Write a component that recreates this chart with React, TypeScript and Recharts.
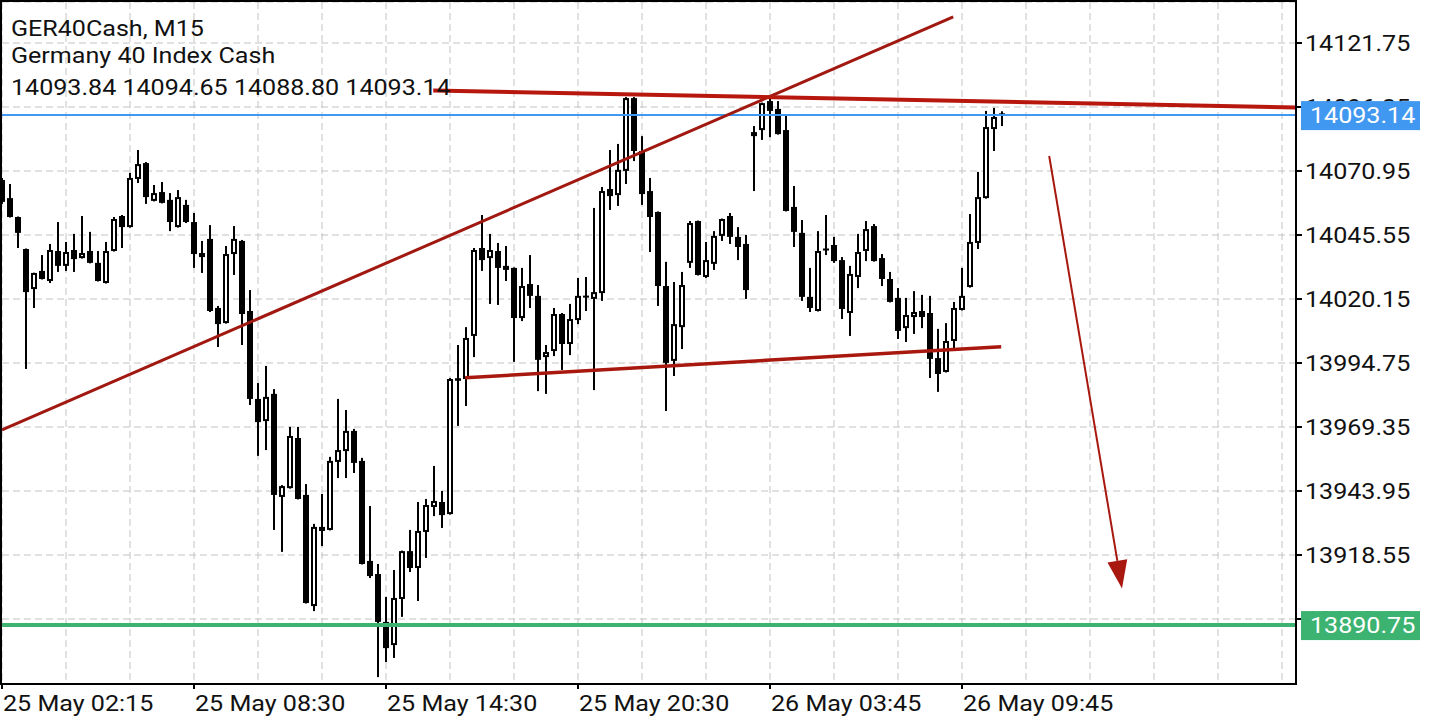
import { ComposedChart, XAxis, YAxis, CartesianGrid, Bar, ReferenceLine } from "recharts";

// M15 candles (index 0 = 25 May 02:15)
const OPEN = [
  14067.4, 14060.2, 14052.7, 14040.0, 14024.1, 14031.3, 14027.3, 14039.2, 14033.3, 14039.6,
  14036.4, 14039.2, 14034.5, 14026.5, 14039.2, 14053.1, 14048.7, 14067.8, 14074.1, 14059.1,
  14062.6, 14059.5, 14048.7, 14057.5, 14050.7, 14038.4, 14044.0, 14016.6, 14010.6, 14038.0,
  14043.2, 14015.4, 13980.5, 13971.7, 13982.5, 13941.6, 13945.1, 13965.0, 13942.4, 13898.3,
  13929.7, 13928.5, 13955.5, 13959.8, 13967.8, 13955.9, 13916.2, 13911.0, 13892.0, 13882.8,
  13901.1, 13920.1, 13913.4, 13927.7, 13937.6, 13939.6, 13934.8, 13988.4, 13988.4, 14005.5,
  14040.4, 14036.4, 14039.2, 14031.7, 14032.5, 14012.6, 14026.1, 14021.4, 13997.1, 13999.5,
  14014.2, 14002.3, 14011.8, 14021.5, 14020.2, 14022.5, 14063.8, 14061.4, 14071.0, 14099.9,
  14078.9, 14063.0, 14054.7, 14025.3, 13995.6, 14009.0, 14034.5, 14051.1, 14028.9, 14034.1,
  14045.2, 14053.1, 14044.8, 14042.0, 14084.8, 14087.2, 14098.7, 14095.6, 14087.2, 14056.7,
  14046.4, 14021.0, 14015.4, 14040.2, 14041.6, 14035.6, 14014.6, 14028.9, 14039.2, 14049.1,
  14036.4, 14028.1, 14020.6, 14008.6, 14013.0, 14015.4, 14014.6, 13996.7, 13991.2, 14003.5,
  14015.8, 14024.9, 14042.4, 14060.2, 14087.6, 14093.84,
];
const HIGH = [
  14068.2, 14065.8, 14052.9, 14040.2, 14030.6, 14037.6, 14042.0, 14050.7, 14042.8, 14046.0,
  14053.1, 14046.8, 14039.2, 14042.8, 14052.7, 14053.5, 14070.2, 14079.3, 14074.5, 14065.4,
  14066.6, 14062.2, 14063.4, 14059.5, 14054.3, 14043.2, 14049.5, 14017.4, 14041.2, 14049.1,
  14043.6, 14023.7, 13986.8, 13993.6, 13984.4, 13946.3, 13969.4, 13969.4, 13946.7, 13930.9,
  13942.8, 13957.5, 13980.5, 13976.1, 13968.6, 13957.1, 13938.0, 13915.0, 13901.9, 13912.6,
  13920.3, 13928.5, 13939.6, 13940.8, 13953.9, 13944.0, 13988.8, 14001.9, 14009.0, 14040.4,
  14053.5, 14046.0, 14042.4, 14041.2, 14032.7, 14032.5, 14037.6, 14025.7, 14001.9, 14016.6,
  14014.6, 14018.2, 14028.5, 14028.9, 14056.3, 14064.6, 14079.3, 14081.7, 14100.3, 14100.3,
  14084.8, 14068.2, 14054.9, 14034.9, 14026.9, 14030.9, 14051.1, 14051.3, 14042.8, 14047.1,
  14052.1, 14054.3, 14048.7, 14045.6, 14088.8, 14098.1, 14100.3, 14098.7, 14093.2, 14065.0,
  14051.5, 14032.5, 14047.1, 14053.5, 14044.8, 14036.8, 14033.3, 14046.0, 14051.1, 14049.9,
  14038.0, 14030.9, 14024.5, 14020.6, 14023.3, 14021.8, 14021.4, 14008.3, 14010.6, 14019.0,
  14032.5, 14053.9, 14070.6, 14094.8, 14096.0, 14094.65,
];
const LOW = [
  14057.9, 14052.5, 14040.4, 13992.4, 14016.6, 14027.9, 14026.5, 14030.9, 14031.3, 14030.9,
  14036.2, 14034.3, 14027.1, 14026.3, 14039.0, 14040.4, 14048.5, 14066.2, 14057.9, 14058.9,
  14058.1, 14047.1, 14048.5, 14050.3, 14032.5, 14030.5, 14015.0, 14001.1, 14010.4, 14029.7,
  14001.9, 13978.1, 13957.9, 13960.2, 13928.5, 13919.8, 13944.9, 13940.6, 13899.3, 13896.3,
  13922.1, 13928.3, 13949.1, 13949.1, 13951.1, 13914.8, 13909.4, 13870.1, 13876.1, 13877.7,
  13894.0, 13911.8, 13900.3, 13917.4, 13934.0, 13929.3, 13934.6, 13969.8, 13977.7, 13997.1,
  14031.3, 14018.2, 14017.8, 14027.3, 13995.2, 14011.4, 14016.6, 13983.6, 13982.5, 13997.5,
  13992.0, 13997.9, 14010.2, 14015.4, 13984.0, 14019.4, 14055.5, 14057.1, 14065.8, 14074.9,
  14057.5, 14038.8, 14017.4, 13975.7, 13989.6, 14000.3, 14032.5, 14029.5, 14028.5, 14031.7,
  14043.2, 14042.0, 14035.6, 14020.2, 14063.0, 14083.3, 14084.4, 14085.4, 14054.9, 14040.8,
  14019.4, 14015.0, 14015.2, 14037.6, 14034.5, 14012.2, 14005.5, 14024.5, 14035.2, 14035.0,
  14025.3, 14018.8, 14004.3, 14003.1, 14006.3, 14008.6, 13988.8, 13983.3, 13991.0, 14000.7,
  14015.6, 14024.7, 14040.0, 14060.0, 14078.9, 14088.8,
];
const CLOSE = [
  14058.7, 14052.7, 14046.4, 14022.9, 14030.5, 14028.1, 14039.6, 14033.3, 14038.8, 14036.0,
  14038.4, 14034.5, 14027.3, 14039.2, 14051.9, 14048.7, 14068.2, 14073.7, 14060.6, 14062.2,
  14058.3, 14050.7, 14060.6, 14050.7, 14038.0, 14036.8, 14015.4, 14010.2, 14038.0, 14044.0,
  14014.2, 13980.5, 13971.3, 13981.3, 13942.4, 13945.9, 13965.8, 13940.8, 13899.5, 13929.7,
  13928.1, 13955.9, 13960.2, 13967.8, 13955.1, 13915.0, 13910.2, 13892.0, 13881.6, 13901.5,
  13920.1, 13913.4, 13928.1, 13938.4, 13940.0, 13934.4, 13988.4, 13988.7, 14004.7, 14039.6,
  14035.6, 14039.6, 14032.5, 14033.3, 14012.6, 14025.3, 14021.4, 13996.0, 13999.1, 14014.2,
  14002.3, 14012.2, 14021.4, 14021.3, 14022.9, 14063.0, 14061.0, 14071.4, 14099.9, 14078.9,
  14061.8, 14052.7, 14025.3, 13994.8, 14010.2, 14025.7, 14050.3, 14029.7, 14035.6, 14045.2,
  14051.9, 14044.8, 14040.8, 14023.7, 14086.4, 14097.9, 14094.8, 14085.6, 14055.1, 14046.8,
  14021.0, 14016.6, 14039.2, 14040.0, 14035.2, 14016.2, 14030.1, 14038.8, 14047.9, 14035.2,
  14028.1, 14019.0, 14007.5, 14013.8, 14015.0, 14013.0, 13996.4, 13990.4, 14003.5, 14016.6,
  14021.4, 14042.8, 14060.6, 14088.4, 14092.4, 14093.14,
];

const TIME_TICKS = [0, 24, 48, 72, 96, 120];
const TIME_LABELS = ["25 May 02:15", "25 May 08:30", "25 May 14:30", "25 May 20:30", "26 May 03:45", "26 May 09:45"];
const PRICE_TICKS = [14121.75, 14096.35, 14070.95, 14045.55, 14020.15, 13994.75, 13969.35, 13943.95, 13918.55, 13893.15];
const SUPPORT = 13890.75;

// drawn objects, in (bar index, price)
const RISING_LINE = [{ x: 0, y: 13968.2 }, { x: 118.9, y: 14132.1 }];
const TOP_LINE = [{ x: 53.9, y: 14102.9 }, { x: 161.75, y: 14096.2 }];
const BOTTOM_LINE = [{ x: 57.9, y: 13988.9 }, { x: 124.9, y: 14001.2 }];
const ARROW = [{ x: 130.9, y: 14076.9 }, { x: 140.0, y: 13905.3 }];

const X_DOMAIN = [0, 161.75];
const Y_DOMAIN = [13867.36, 14138.03];

const FONT = "Roboto, 'Noto Sans', sans-serif";
const SX = 1.14;
const RED = "#A8180F";
const BLUE = "#4198F0";
const GREEN = "#3CB371";

const data = OPEN.map((o, i) => ({ i, open: o, high: HIGH[i], low: LOW[i], close: CLOSE[i] }));
const last = data[data.length - 1];
const gridTicks: number[] = [];
for (let t = 0; t <= 160; t += 8) gridTicks.push(t);

function Candle(props: any) {
  const { x, y, width, height, payload } = props;
  if (!payload || x == null) return <g />;
  const top0 = Math.min(y, y + height);
  const h = Math.abs(height);
  const cx = Math.round(x + width / 2);
  const { open, high, low, close } = payload;
  const k = high > low ? h / (high - low) : 0;
  const bTop = top0 + (high - Math.max(open, close)) * k;
  const bBot = top0 + (high - Math.min(open, close)) * k;
  const up = close > open;
  return (
    <g>
      <rect x={cx - 1} y={top0} width={2} height={Math.max(h, 1)} fill="#000" />
      {up ? (
        <rect x={cx - 2} y={bTop + 1} width={4} height={Math.max(bBot - bTop - 2, 0.5)} fill="#fff" stroke="#000" strokeWidth={2} />
      ) : (
        <rect x={cx - 3} y={bTop} width={6} height={Math.max(bBot - bTop, 2)} fill="#000" />
      )}
    </g>
  );
}

function TimeTick({ x, y, payload }: any) {
  const idx = TIME_TICKS.indexOf(payload.value);
  if (idx < 0) return <g />;
  return (
    <g>
      <line x1={x} x2={x} y1={y} y2={y + 5} stroke="#000" strokeWidth={2} />
      <text transform={`translate(${x + 1},${y + 27}) scale(${SX},1)`} fontSize={22} fontFamily={FONT} fill="#111">
        {TIME_LABELS[idx]}
      </text>
    </g>
  );
}

function PriceTick({ x, y, payload }: any) {
  const v = payload.value;
  const tag = v === last.close ? BLUE : v === SUPPORT ? GREEN : null;
  if (tag) {
    return (
      <g>
        <rect x={x + 5} y={y - 14} width={119} height={29} fill={tag} />
        <text transform={`translate(${x + 14},${y + 8}) scale(${SX},1)`} fontSize={22} fontFamily={FONT} fill="#fff">
          {v.toFixed(2)}
        </text>
      </g>
    );
  }
  return (
    <g>
      <line x1={x} x2={x + 6} y1={y} y2={y} stroke="#000" strokeWidth={2} />
      <text transform={`translate(${x + 9},${y + 8}) scale(${SX},1)`} fontSize={22} fontFamily={FONT} fill="#111">
        {v.toFixed(2)}
      </text>
    </g>
  );
}

function ArrowShape(props: any) {
  const { x1, y1, x2, y2 } = props;
  if (x1 == null) return <g />;
  const dx = x2 - x1;
  const dy = y2 - y1;
  const len = Math.hypot(dx, dy);
  const ux = dx / len;
  const uy = dy / len;
  const bx = x2 - ux * 28;
  const by = y2 - uy * 28;
  const px = -uy * 10;
  const py = ux * 10;
  return (
    <g>
      <line x1={x1} y1={y1} x2={bx} y2={by} stroke={RED} strokeWidth={2} />
      <polygon points={`${x2},${y2} ${bx + px},${by + py} ${bx - px},${by - py}`} fill={RED} />
    </g>
  );
}

export default function App() {
  return (
    <div style={{ position: "absolute", left: 0, top: 0, width: 1440, height: 720, background: "#fff" }}>
      <ComposedChart width={1440} height={720} data={data} margin={{ top: 2, right: 0, left: 2, bottom: 0 }}>
        <CartesianGrid stroke="#c4c4c4" strokeDasharray="7 4" />
        <XAxis
          type="number"
          dataKey="i"
          domain={X_DOMAIN}
          allowDataOverflow
          ticks={gridTicks}
          interval={0}
          height={36}
          axisLine={false}
          tickLine={false}
          tickSize={0}
          tickMargin={0}
          tick={<TimeTick />}
        />
        <YAxis
          type="number"
          orientation="right"
          domain={Y_DOMAIN}
          allowDataOverflow
          ticks={[...PRICE_TICKS, last.close, SUPPORT]}
          interval={0}
          width={144}
          axisLine={false}
          tickLine={false}
          tickSize={0}
          tickMargin={0}
          tick={<PriceTick />}
        />
        <ReferenceLine y={SUPPORT} stroke={GREEN} strokeWidth={4} />
        <ReferenceLine y={last.close} stroke={BLUE} strokeWidth={2} />
        <Bar
          dataKey={(d: any) => [d.low, d.high]}
          barSize={6}
          shape={<Candle />}
          isAnimationActive={false}
        />
        <ReferenceLine segment={RISING_LINE} stroke="#A01810" strokeWidth={3} />
        <ReferenceLine segment={TOP_LINE} stroke="#B8170D" strokeWidth={4} />
        <ReferenceLine segment={BOTTOM_LINE} stroke={RED} strokeWidth={3.5} />
        <ReferenceLine segment={ARROW} stroke={RED} shape={<ArrowShape />} />
      </ComposedChart>
      <svg width={1440} height={720} style={{ position: "absolute", left: 0, top: 0, pointerEvents: "none" }}>
        <rect x={1} y={1} width={1295} height={683} fill="none" stroke="#000" strokeWidth={2} />
        <g fontSize={22} fontFamily={FONT} fill="#111">
          <text transform={`translate(11,36) scale(${SX},1)`}>GER40Cash, M15</text>
          <text transform={`translate(11,63) scale(${SX},1)`}>Germany 40 Index Cash</text>
          <text transform={`translate(11,95) scale(${SX},1)`}>
            {`${last.open.toFixed(2)} ${last.high.toFixed(2)} ${last.low.toFixed(2)} ${last.close.toFixed(2)}`}
          </text>
        </g>
      </svg>
    </div>
  );
}
